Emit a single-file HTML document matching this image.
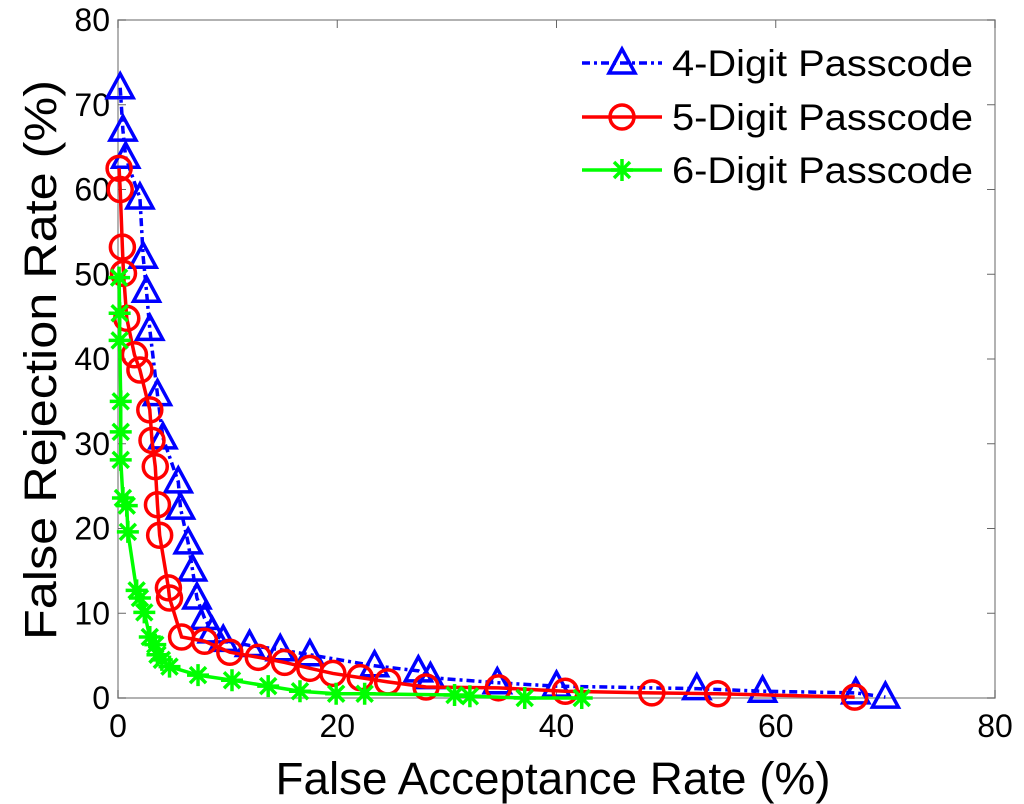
<!DOCTYPE html>
<html><head><meta charset="utf-8"><style>
body{margin:0;background:#fff}
svg{display:block;font-family:"Liberation Sans",Arial,sans-serif}
</style></head><body>
<svg id="chart" width="1024" height="804">
<rect x="118" y="20" width="877" height="678" fill="#fff" stroke="#999" stroke-width="1.5"/>
<g id="axes"></g>
<g id="series"></g>
<text x="553" y="794" font-size="45" text-anchor="middle" textLength="555" lengthAdjust="spacingAndGlyphs">False Acceptance Rate (%)</text>
<text transform="translate(56,360) rotate(-90)" font-size="45" text-anchor="middle" textLength="560" lengthAdjust="spacingAndGlyphs">False Rejection Rate (%)</text>
<g id="legend"></g>
</svg>
<script>
const xTicks=[0,20,40,60,80];
const yTicks=[0,10,20,30,40,50,60,70,80];
const s4x=[0.2,0.45,0.7,2,2.3,2.6,2.9,3.6,4.1,5.5,5.7,6.4,6.8,7.2,7.9,8.6,9.6,12,14.8,17.5,23.4,27.4,28.5,34.6,40,52.8,58.8,67.3,70];
const s4y=[72,67,63.8,59,52,48,43.5,35.8,30.7,25.5,22.4,18.3,15.1,11.8,9.4,7.8,6.8,6.2,5.7,5.1,3.8,3.2,2.4,1.8,1.4,1.1,0.8,0.6,0.1];
const s5x=[0.1,0.2,0.4,0.5,0.8,1.5,2,2.9,3.1,3.4,3.6,3.8,4.6,4.7,5.8,7.9,10.2,12.8,15.2,17.5,19.6,22.1,24.6,28.1,34.7,40.8,48.7,54.7,67.2];
const s5y=[62.5,60,53.2,50.1,44.8,40.5,38.7,34,30.4,27.3,22.8,19.2,13,11.8,7.2,6.7,5.4,4.8,4.2,3.5,2.9,2.4,1.9,1.3,1.2,0.8,0.6,0.5,0.1];
const s6x=[0.1,0.15,0.15,0.25,0.25,0.25,0.45,0.8,0.9,1.7,2,2.4,2.9,3.4,3.6,4,4.7,7.3,10.4,13.7,16.6,19.9,22.5,30.7,32.1,37.1,42.3];
const s6y=[49.6,45.4,42.2,35,31.4,28.1,23.6,22.7,19.6,12.7,11.8,10.1,7.2,6.3,5.1,4.5,3.7,2.7,2.1,1.4,0.8,0.5,0.5,0.35,0.2,0,0];
const seriesNames=["4-Digit Passcode","5-Digit Passcode","6-Digit Passcode"];
const X=v=>118+v*877/80, Y=v=>698-v*678/80;
const NS="http://www.w3.org/2000/svg";
function mk(tag,attrs,parent){const e=document.createElementNS(NS,tag);for(const k in attrs)e.setAttribute(k,attrs[k]);parent.appendChild(e);return e;}
const axes=document.getElementById('axes');
xTicks.forEach(t=>{
 const l=mk('line',{x1:X(t),x2:X(t),y1:698,y2:690,stroke:'#666','stroke-width':1},axes);
 
 
 const l2=mk('line',{x1:X(t),x2:X(t),y1:20,y2:28,stroke:'#666','stroke-width':1},axes);
 
 
 const tx=mk('text',{x:X(t),y:737,'font-size':32,'text-anchor':'middle'},axes);tx.textContent=t;
 
 
});
yTicks.forEach(t=>{
 const l=mk('line',{x1:118,x2:126,y1:Y(t),y2:Y(t),stroke:'#666','stroke-width':1},axes);
 
 
 const l2=mk('line',{x1:995,x2:987,y1:Y(t),y2:Y(t),stroke:'#666','stroke-width':1},axes);
 
 
 const tx=mk('text',{x:110,y:Y(t)+11,'font-size':32,'text-anchor':'end'},axes);tx.textContent=t;
 
 
});
function tri(g,cx,cy,c){const p=mk('polygon',{points:`${cx},${cy-14} ${cx-13},${cy+10} ${cx+13},${cy+10}`,fill:'none',stroke:c,'stroke-width':3.5},g);}
function circ(g,cx,cy,c){const p=mk('circle',{cx:cx,cy:cy,r:12,fill:'none',stroke:c,'stroke-width':3.5},g);}
function star(g,cx,cy,c){const r=11;const p=mk('path',{d:`M${cx-r},${cy}H${cx+r}M${cx},${cy-r}V${cy+r}M${cx-8},${cy-8}L${cx+8},${cy+8}M${cx-8},${cy+8}L${cx+8},${cy-8}`,stroke:c,'stroke-width':3.5,fill:'none'},g);}
const sg=document.getElementById('series');
const defs=[[s4x,s4y,'#0000ff','8 4 3 4',tri,'series-4-digit'],[s5x,s5y,'#ff0000','',circ,'series-5-digit'],[s6x,s6y,'#00ff00','',star,'series-6-digit']];
defs.forEach(([xs,ys,c,dash,m,name])=>{
 const g=mk('g',{},sg);
 
 
 const pl=mk('polyline',{points:xs.map((x,i)=>X(x)+','+Y(ys[i])).join(' '),fill:'none',stroke:c,'stroke-width':3.5,'stroke-dasharray':dash},g);
 
 
 xs.forEach((x,i)=>m(g,X(x),Y(ys[i]),c));
});
const lg=document.getElementById('legend');
const ly=[63,117,170];
defs.forEach(([xs,ys,c,dash,m],i)=>{
 const g=mk('g',{},lg);
 
 
 mk('line',{x1:582,x2:662,y1:ly[i],y2:ly[i],stroke:c,'stroke-width':3.5,'stroke-dasharray':dash},g);
 m(g,622,ly[i],c);
 const t=mk('text',{x:672,y:ly[i]+13,'font-size':37,textLength:301,lengthAdjust:'spacingAndGlyphs'},g);t.textContent=seriesNames[i];
 
 
});
</script>
</body></html>
